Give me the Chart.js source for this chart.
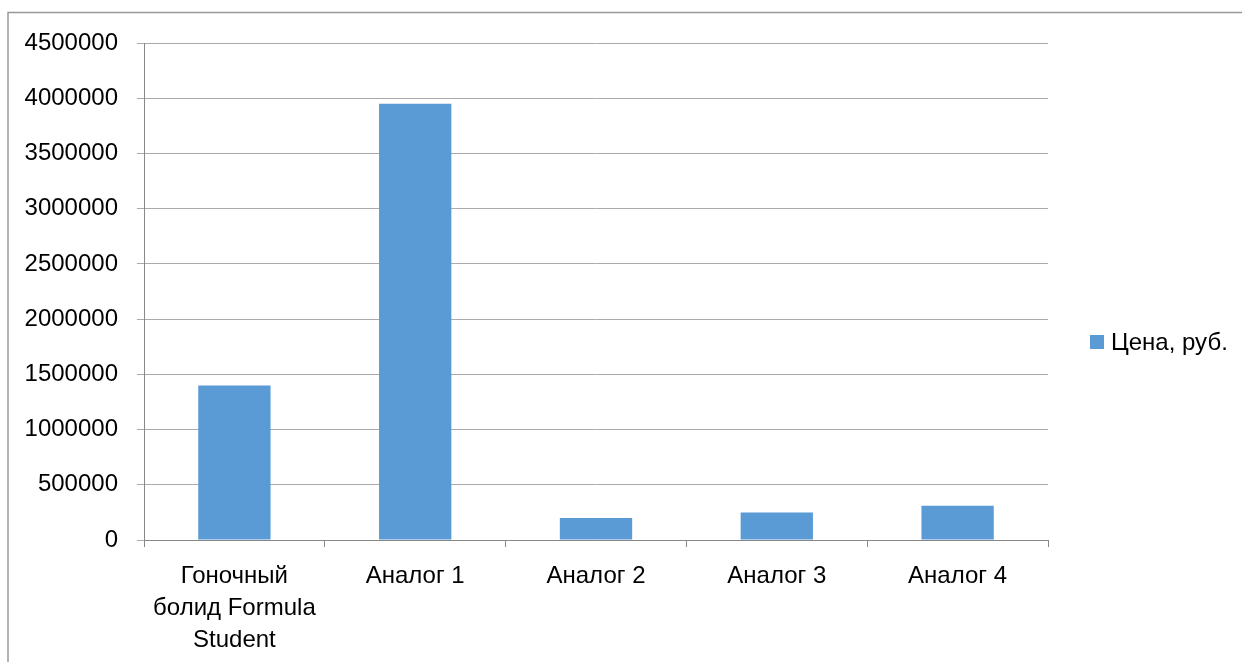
<!DOCTYPE html>
<html>
<head>
<meta charset="utf-8">
<script src="https://cdn.jsdelivr.net/npm/chart.js@4/dist/chart.umd.min.js"></script>
<style>
  html, body { margin: 0; padding: 0; background: #fff; }
  canvas { display: block; }
</style>
</head>
<body>
<canvas id="priceChart" width="1243" height="662"></canvas>
<script>
// Chart data
const categories = [
    ['Гоночный', 'болид Formula', 'Student'],
    'Аналог 1',
    'Аналог 2',
    'Аналог 3',
    'Аналог 4'
];
const prices = [1400000, 3950000, 200000, 250000, 310000];
const seriesName = 'Цена, руб.';
const yTicks = [0, 500000, 1000000, 1500000, 2000000, 2500000, 3000000, 3500000, 4000000, 4500000];

const FONT = 'Liberation Sans, Arial, sans-serif';

// Outer frame (top and left edges, like the original)
const framePlugin = {
    id: 'frame',
    beforeDraw(chart) {
        const ctx = chart.ctx;
        ctx.save();
        ctx.strokeStyle = '#999';
        ctx.lineWidth = 1.5;
        ctx.beginPath();
        ctx.moveTo(8, chart.height);
        ctx.lineTo(8, 12.5);
        ctx.lineTo(1242, 12.5);
        ctx.stroke();
        ctx.restore();
    }
};

// Legend drawn at the right, Excel style
const legendPlugin = {
    id: 'sideLegend',
    afterDraw(chart) {
        const ctx = chart.ctx;
        const ds = chart.data.datasets[0];
        ctx.save();
        ctx.fillStyle = ds.backgroundColor;
        ctx.fillRect(1090, 335, 14, 14);
        ctx.fillStyle = '#000';
        ctx.font = '24px ' + FONT;
        ctx.textBaseline = 'middle';
        ctx.fillText(ds.label, 1111, 343);
        ctx.restore();
    }
};

const ctx = document.getElementById('priceChart').getContext('2d');
new Chart(ctx, {
    type: 'bar',
    data: {
        labels: categories,
        datasets: [{
            label: seriesName,
            data: prices,
            backgroundColor: '#5b9bd5',
            borderWidth: 0,
            categoryPercentage: 1,
            barPercentage: 0.4
        }]
    },
    options: {
        responsive: false,
        animation: false,
        layout: {
            padding: { top: 43, right: 195, bottom: 0, left: 0 }
        },
        plugins: {
            legend: { display: false },
            tooltip: { enabled: false }
        },
        scales: {
            x: {
                grid: {
                    offset: true,
                    drawOnChartArea: false,
                    drawTicks: true,
                    tickLength: 7,
                    color: '#888'
                },
                border: { color: '#888', width: 1 },
                ticks: {
                    color: '#000',
                    font: { family: FONT, size: 24, lineHeight: 1.32 },
                    padding: 14,
                    maxRotation: 0,
                    autoSkip: false
                },
                afterFit(scale) { scale.height = 122; }
            },
            y: {
                min: 0,
                max: 4500000,
                afterBuildTicks(scale) {
                    scale.ticks = yTicks.map(v => ({ value: v }));
                },
                grid: {
                    color: '#aaa',
                    tickLength: 7,
                    lineWidth: 1
                },
                border: { color: '#888', width: 1 },
                ticks: {
                    color: '#000',
                    font: { family: FONT, size: 24 },
                    padding: 19,
                    callback: v => String(v)
                },
                afterFit(scale) { scale.width = 144; }
            }
        }
    },
    plugins: [framePlugin, legendPlugin]
});
</script>
</body>
</html>
